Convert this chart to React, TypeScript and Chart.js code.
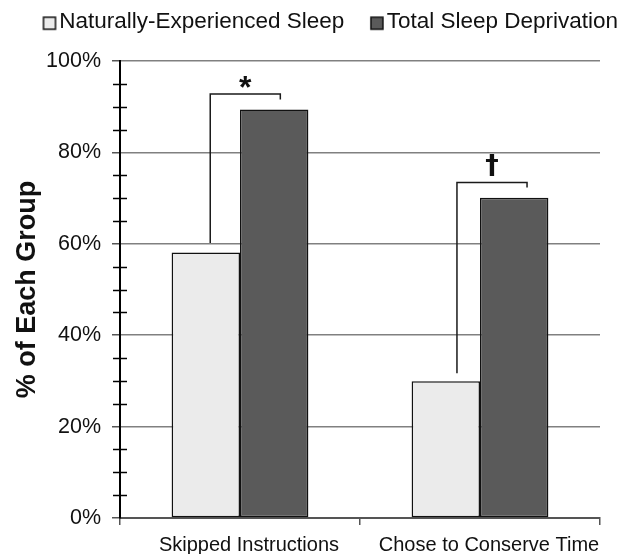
import React, { useEffect, useRef } from 'react';
import { Chart, registerables } from 'chart.js';

Chart.register(...registerables);

const categories = ['Skipped Instructions', 'Chose to Conserve Time'];
const seriesNames = ['Naturally-Experienced Sleep', 'Total Sleep Deprivation'];
const naturalSleep = [58.1, 29.9];
const sleepDeprivation = [89.4, 70.1];
const seriesFill = ['#ebebeb', '#5a5a5a'];

// significance brackets (values in % of each group)
const bracketLow = [60.2, 31.7];
const bracketTop = [92.8, 73.4];
const bracketEnd = [91.6, 72.3];
const bracketMarks = ['*', '†'];

const FONT = '"Liberation Sans", Arial, sans-serif';

// annotation placement (fraction of category width relative to category centre)
const bracketLeftFrac = [-0.124, -0.096];
const bracketRightFrac = [0.168, 0.196];
const markFont = [`bold 32px ${FONT}`, `bold 27px "DejaVu Sans", sans-serif`];
const markBaselineShift = [4.0, -8.5];

function makeSwatch(fill: string): HTMLCanvasElement {
  const c = document.createElement('canvas');
  c.width = 48;
  c.height = 22;
  const g = c.getContext('2d')!;
  g.fillStyle = fill;
  g.fillRect(30, 6, 12, 12);
  g.strokeStyle = '#111';
  g.lineWidth = 1.5;
  g.strokeRect(30, 6, 12, 12);
  return c;
}

const bracketPlugin = {
  id: 'sigBrackets',
  afterDatasetsDraw(chart: any) {
    const { ctx } = chart;
    const x = chart.scales.x;
    const y = chart.scales.y;
    const cw = x.width / categories.length;
    ctx.save();
    ctx.strokeStyle = '#1a1a1a';
    ctx.lineWidth = 1.5;
    for (let i = 0; i < categories.length; i++) {
      const xc = x.getPixelForValue(i);
      const xl = xc + bracketLeftFrac[i] * cw;
      const xr = xc + bracketRightFrac[i] * cw;
      const yTop = y.getPixelForValue(bracketTop[i]);
      ctx.beginPath();
      ctx.moveTo(xl, y.getPixelForValue(bracketLow[i]));
      ctx.lineTo(xl, yTop);
      ctx.lineTo(xr, yTop);
      ctx.lineTo(xr, y.getPixelForValue(bracketEnd[i]));
      ctx.stroke();
      ctx.fillStyle = '#111';
      ctx.font = markFont[i];
      ctx.textAlign = 'center';
      ctx.textBaseline = 'alphabetic';
      ctx.fillText(bracketMarks[i], (xl + xr) / 2, yTop + markBaselineShift[i]);
    }
    ctx.restore();
  },
};

const minorTickPlugin = {
  id: 'minorTicks',
  afterDatasetsDraw(chart: any) {
    const { ctx } = chart;
    const y = chart.scales.y;
    const x0 = chart.chartArea.left;
    ctx.save();
    ctx.strokeStyle = '#000';
    ctx.lineWidth = 1.5;
    for (let v = 5; v < 100; v += 5) {
      if (v % 20 === 0) continue;
      const yp = Math.round(y.getPixelForValue(v)) + 0.5;
      ctx.beginPath();
      ctx.moveTo(x0 - 7, yp);
      ctx.lineTo(x0 + 7, yp);
      ctx.stroke();
    }
    ctx.restore();
  },
};

export default function App() {
  const ref = useRef<HTMLCanvasElement | null>(null);
  useEffect(() => {
    document.body.style.margin = '0';
    const canvas = ref.current!;
    const swatches = seriesFill.map(makeSwatch);
    const chart = new Chart(canvas, {
      type: 'bar',
      data: {
        labels: categories,
        datasets: [
          {
            label: seriesNames[0],
            data: naturalSleep,
            backgroundColor: seriesFill[0],
            borderColor: '#111',
            borderWidth: 1.5,
            borderSkipped: false,
          },
          {
            label: seriesNames[1],
            data: sleepDeprivation,
            backgroundColor: seriesFill[1],
            borderColor: '#111',
            borderWidth: 1.5,
            borderSkipped: false,
          },
        ],
      },
      options: {
        responsive: false,
        animation: false,
        datasets: { bar: { barPercentage: 1, categoryPercentage: 0.57 } },
        layout: { padding: { left: 10, top: 1, right: 0, bottom: 0 } },
        plugins: {
          tooltip: { enabled: false },
          title: {
            display: true,
            text: ' ',
            position: 'top',
            weight: 500,
            font: { size: 10, lineHeight: 1 },
            padding: { top: 0, bottom: 7.5 },
          },
          legend: {
            display: true,
            position: 'top',
            labels: {
              usePointStyle: true,
              pointStyleWidth: 21,
              padding: 10,
              color: '#111',
              font: { family: FONT, size: 22.5 },
              generateLabels: (ch: any) => {
                const items = (Chart.defaults.plugins.legend.labels as any).generateLabels(ch);
                return items.map((it: any, i: number) => ({ ...it, pointStyle: swatches[i] }));
              },
            },
          },
        },
        scales: {
          x: {
            type: 'category',
            offset: true,
            grid: { offset: true, drawOnChartArea: false, tickLength: 7, color: '#555', lineWidth: 1.5 },
            border: { color: '#555', width: 2 },
            ticks: { color: '#111', font: { family: FONT, size: 20 }, padding: 8, labelOffset: 9 },
            afterFit: (s: any) => { s.height = 36; },
          },
          y: {
            type: 'linear',
            min: 0,
            max: 100,
            position: 'left',
            grid: {
              color: (c: any) => (c.tick && c.tick.value % 20 === 0 ? '#808080' : 'rgba(0,0,0,0)'),
              tickColor: (c: any) => (c.tick && c.tick.value % 20 === 0 ? '#555' : 'rgba(0,0,0,0)'),
              lineWidth: 1.5,
              tickLength: 8,
            },
            border: { color: '#000', width: 2 },
            ticks: {
              stepSize: 5,
              autoSkip: false,
              color: '#111',
              font: { family: FONT, size: 21.5 },
              padding: 11,
              callback: (v: any) => (Number(v) % 20 === 0 ? `${v}%` : ''),
            },
            title: {
              display: true,
              text: '% of Each Group',
              color: '#111',
              font: { family: FONT, size: 27, weight: 'bold', lineHeight: 1 },
              padding: { top: 4, bottom: 0 },
            },
            afterFit: (s: any) => { s.width = 110; },
          },
          yR: {
            type: 'linear',
            position: 'right',
            display: true,
            grid: { display: false, drawTicks: false },
            border: { display: false },
            ticks: { display: false },
            afterFit: (s: any) => { s.width = 35; },
          },
        },
      },
      plugins: [bracketPlugin, minorTickPlugin],
    } as any);
    return () => chart.destroy();
  }, []);
  return (
    <div style={{ width: 635, height: 554, background: '#fff' }}>
      <canvas ref={ref} width={635} height={554} style={{ display: 'block' }} />
    </div>
  );
}
